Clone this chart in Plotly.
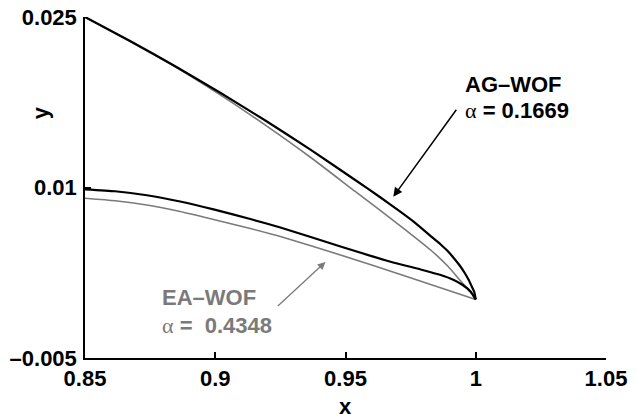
import plotly.graph_objects as go

# AG-WOF (black) airfoil trailing-edge region
ag_upper_x = [0.85, 0.86731, 0.88462, 0.90192, 0.91923, 0.93654, 0.95385, 0.96346, 0.97115,
              0.97615, 0.98269, 0.98654, 0.98923, 0.99154, 0.99385, 0.99577, 0.99731,
              0.99846, 0.99942, 1.0]
ag_upper_y = [0.02500, 0.02289, 0.02067, 0.01833, 0.01589, 0.01333, 0.01064, 0.00912, 0.00785,
              0.00699, 0.00573, 0.00499, 0.00441, 0.00380, 0.00314, 0.00248, 0.00186,
              0.00129, 0.00081, 0.00015]
ag_lower_x = [0.85, 0.86154, 0.87373, 0.88654, 0.89935, 0.91346, 0.925, 0.94808,
              0.96731, 0.97885, 0.98654, 0.99115, 0.995, 0.99808, 1.0]
ag_lower_y = [0.00984, 0.00967, 0.00932, 0.00877, 0.00807, 0.00723, 0.00648, 0.00481,
              0.00347, 0.00279, 0.00230, 0.00191, 0.00142, 0.00083, 0.00015]

# EA-WOF (gray)
ea_upper_x = [0.85, 0.86731, 0.88462, 0.90192, 0.91923, 0.93654, 0.95385, 0.97115,
              0.98269, 0.98923, 0.99423, 0.99808, 1.0]
ea_upper_y = [0.02500, 0.02284, 0.02062, 0.01815, 0.01549, 0.01266, 0.00963, 0.00661,
              0.00450, 0.00309, 0.00177, 0.00076, 0.00015]
ea_lower_x = [0.85, 0.86154, 0.87373, 0.88654, 0.89935, 0.91346, 0.925, 0.94808, 0.97373, 1.0]
ea_lower_y = [0.00905, 0.00883, 0.00846, 0.00789, 0.00719, 0.00639, 0.00569, 0.00406,
              0.00215, 0.00015]

x_ticks = [0.85, 0.9, 0.95, 1.0, 1.05]
x_ticktext = ["0.85", "0.9", "0.95", "1", "1.05"]
y_ticks = [-0.005, 0.01, 0.025]
y_ticktext = ["\u20130.005", "0.01", "0.025"]

GRAY = "#7a7a7a"
FONT = "Liberation Sans"
FS = 22

fig = go.Figure()
for xs, ys in [(ea_upper_x, ea_upper_y), (ea_lower_x, ea_lower_y)]:
    fig.add_trace(go.Scatter(x=xs, y=ys, mode="lines", name="EA-WOF",
                             line=dict(color=GRAY, width=1.6, shape="spline", smoothing=0.5),
                             showlegend=False))
for xs, ys in [(ag_upper_x, ag_upper_y), (ag_lower_x, ag_lower_y)]:
    fig.add_trace(go.Scatter(x=xs, y=ys, mode="lines", name="AG-WOF",
                             line=dict(color="black", width=2.2, shape="spline", smoothing=0.5),
                             showlegend=False))

alpha = "<span style='font-family:Liberation Serif;font-weight:normal'>\u03b1</span>"

annots = [
    dict(x=0.995, y=0.01902, text="AG\u2013WOF", color="black"),
    dict(x=0.995, y=0.01677, text=alpha + " = 0.1669", color="black"),
    dict(x=0.8788, y=0.00032, text="EA\u2013WOF", color=GRAY),
    dict(x=0.8788, y=-0.00214, text=alpha + " =  0.4348", color=GRAY),
]
for a in annots:
    fig.add_annotation(x=a["x"], y=a["y"], xref="x", yref="y", text=a["text"],
                       showarrow=False, xanchor="left", yanchor="middle",
                       font=dict(family=FONT, size=FS, color=a["color"], weight="bold"))

# arrows
fig.add_annotation(x=0.96835, y=0.00919, ax=0.99296, ay=0.01697, xref="x", yref="y",
                   axref="x", ayref="y", text="", showarrow=True, arrowhead=2,
                   arrowsize=1.2, arrowwidth=1.5, arrowcolor="black")
fig.add_annotation(x=0.94231, y=0.00345, ax=0.92346, ay=-0.00054, xref="x", yref="y",
                   axref="x", ayref="y", text="", showarrow=True, arrowhead=2,
                   arrowsize=1.2, arrowwidth=1.3, arrowcolor=GRAY)

# axis titles
fig.add_annotation(x=0.5, y=-0.143, xref="paper", yref="paper", text="x", showarrow=False,
                   xanchor="center", yanchor="middle",
                   font=dict(family=FONT, size=FS, color="black", weight="bold"))
fig.add_annotation(x=-0.086, y=0.718, xref="paper", yref="paper", text="y", showarrow=False,
                   textangle=-90, xanchor="center", yanchor="middle",
                   font=dict(family=FONT, size=FS, color="black", weight="bold"))

fig.update_xaxes(range=[0.85, 1.05], tickvals=x_ticks, ticktext=x_ticktext,
                 ticks="inside", ticklen=6, tickwidth=1.5, tickcolor="black",
                 showline=True, linecolor="black", linewidth=1.5, showgrid=False,
                 zeroline=False, mirror=False, automargin=False, ticklabeloverflow="allow",
                 tickfont=dict(family=FONT, size=FS, color="black", weight="bold"))
fig.update_yaxes(range=[-0.005, 0.025], tickvals=y_ticks, ticktext=y_ticktext,
                 ticks="inside", ticklen=6, tickwidth=1.5, tickcolor="black",
                 showline=True, linecolor="black", linewidth=1.5, showgrid=False,
                 zeroline=False, mirror=False, automargin=False, ticklabelstandoff=2,
                 ticklabeloverflow="allow",
                 tickfont=dict(family=FONT, size=FS, color="black", weight="bold"))

fig.update_layout(width=629, height=406, margin=dict(l=77, r=31, t=9, b=56, pad=0),
                  plot_bgcolor="white", paper_bgcolor="white", showlegend=False)

fig.write_html("out.html")
